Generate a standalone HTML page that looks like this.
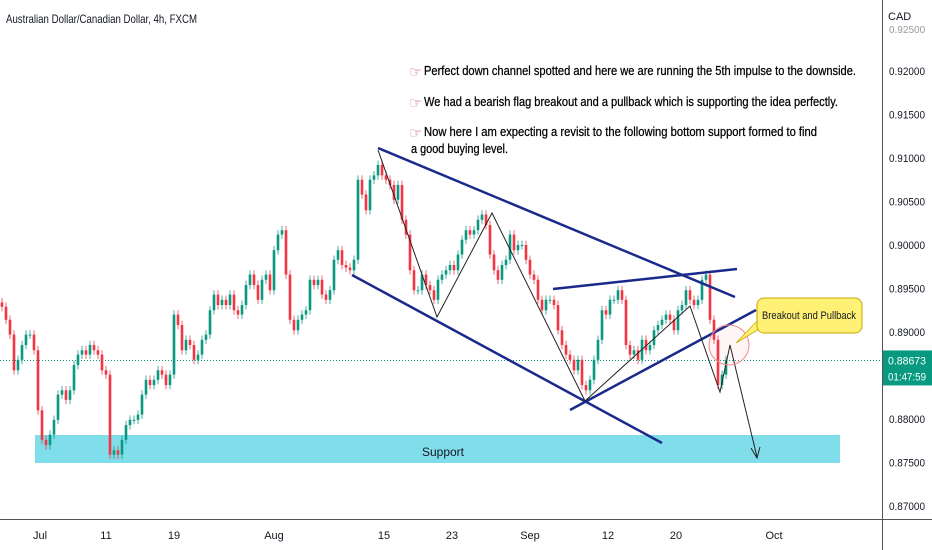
<!DOCTYPE html>
<html><head><meta charset="utf-8"><style>
html,body{margin:0;padding:0;background:#fff;}
svg{display:block;font-family:"Liberation Sans",sans-serif;}
</style></head><body>
<svg id="chart" width="932" height="550" viewBox="0 0 932 550">
<g id="under"></g>
<g id="candles"></g>
<g id="overlay"></g>
<g id="axes"></g>
</svg>
<script>
const closes=[0.8929,0.8914,0.8897,0.8856,0.8868,0.8885,0.8897,0.8897,0.8879,0.8810,0.8776,0.8770,0.8782,0.8799,0.8828,0.8833,0.8822,0.8833,0.8862,0.8874,0.8879,0.8874,0.8885,0.8879,0.8874,0.8856,0.8851,0.8759,0.8764,0.8759,0.8776,0.8793,0.8799,0.8799,0.8805,0.8828,0.8845,0.8839,0.8845,0.8856,0.8851,0.8839,0.8851,0.8920,0.8908,0.8879,0.8891,0.8885,0.8868,0.8874,0.8891,0.8897,0.8925,0.8943,0.8931,0.8937,0.8931,0.8943,0.8925,0.8920,0.8931,0.8954,0.8966,0.8954,0.8937,0.8960,0.8966,0.8948,0.8994,0.9012,0.9017,0.8966,0.8914,0.8902,0.8914,0.8920,0.8925,0.8960,0.8954,0.8960,0.8943,0.8937,0.8948,0.8983,0.8994,0.8977,0.8974,0.8971,0.8983,0.9075,0.9058,0.9040,0.9075,0.9080,0.9092,0.9080,0.9075,0.9069,0.9052,0.9069,0.9029,0.9012,0.8971,0.8948,0.8948,0.8966,0.8954,0.8948,0.8937,0.8960,0.8966,0.8971,0.8977,0.8971,0.8989,0.9006,0.9017,0.9012,0.9017,0.9029,0.9035,0.9023,0.8989,0.8971,0.8960,0.8977,0.8983,0.9012,0.8994,0.9000,0.9000,0.8983,0.8966,0.8960,0.8937,0.8925,0.8937,0.8937,0.8931,0.8902,0.8885,0.8874,0.8868,0.8856,0.8868,0.8839,0.8833,0.8845,0.8868,0.8891,0.8925,0.8920,0.8937,0.8937,0.8948,0.8937,0.8885,0.8874,0.8879,0.8868,0.8891,0.8879,0.8885,0.8902,0.8908,0.8914,0.8920,0.8914,0.8902,0.8925,0.8931,0.8948,0.8937,0.8931,0.8937,0.8960,0.8966,0.8914,0.8891,0.8839,0.8851,0.8868];
const yTicks=[0.920,0.915,0.910,0.905,0.900,0.895,0.890,0.880,0.875,0.870];
const xTickLabels=["Jul","11","19","Aug","15","23","Sep","12","20","Oct"];
const xTickIdx=[9.5,26,43,68,95.5,112.5,132,151.5,168.5,193];
const lastPrice=0.88673;

const NS="http://www.w3.org/2000/svg";
function mk(t,a,p){const e=document.createElementNS(NS,t);for(const k in a)e.setAttribute(k,a[k]);p.appendChild(e);return e;}
function y(p){return 71+(0.92-p)*8700;}
function x(i){return 2+i*4;}
const ug=document.getElementById('under');
let s=mk('rect',{x:35,y:435,width:805,height:28,fill:'#80deea'},ug);


s=mk('text',{x:443,y:456,'font-size':12,fill:'#131722','text-anchor':'middle'},ug);s.textContent='Support';


s=mk('line',{x1:0,x2:882,y1:y(lastPrice),y2:y(lastPrice),stroke:'#089981','stroke-width':1,'stroke-dasharray':'1 2'},ug);


const cg=document.getElementById('candles');
for(let i=0;i<closes.length;i++){
  const o=i?closes[i-1]:closes[0]+0.0005, c=closes[i];
  const up=c>=o, col=up?'#089981':'#f23645';
  const hi=Math.max(o,c)+0.0005, lo=Math.min(o,c)-0.0005;
  const w=mk('line',{x1:x(i),x2:x(i),y1:y(hi),y2:y(lo),stroke:col,'stroke-width':1,opacity:0.75},cg);
  
  
  const top=y(Math.max(o,c)), h=Math.max(1,Math.abs(y(o)-y(c)));
  const b=mk('rect',{x:x(i)-1.3,y:top,width:2.6,height:h,fill:col},cg);
  
  
}
const ov=document.getElementById('overlay');
const blue='#1a2a8c';
const lines=[[378,148,735,297,'channel-top'],[352,275,662,443,'channel-bottom'],[553,289,737,269,'flag-top'],[570,410,756,310,'flag-bottom']];
for(const L of lines){const e=mk('line',{x1:L[0],y1:L[1],x2:L[2],y2:L[3],stroke:blue,'stroke-width':2.5},ov);

}
s=mk('polyline',{points:'378,150 437,317 492,213 585,401 690,306 720,392 730,345 757,457',fill:'none',stroke:'#222','stroke-width':1},ov);


s=mk('polyline',{points:'751,448 757,458 760,447',fill:'none',stroke:'#222','stroke-width':1},ov);


s=mk('circle',{cx:729,cy:345,r:20,fill:'rgba(242,54,69,0.05)',stroke:'#f28b8b','stroke-width':1},ov);


s=mk('path',{d:'M736,343 L760,318 L764,326 Z',fill:'#fff176',stroke:'#c9a800','stroke-width':0.8},ov);


s=mk('rect',{x:757,y:298,width:105,height:35,rx:7,fill:'#fff176',stroke:'#c9a800','stroke-width':1},ov);


s=mk('text',{x:809,y:319,'font-size':11,fill:'#131722','text-anchor':'middle',textLength:94,lengthAdjust:'spacingAndGlyphs'},ov);s.textContent='Breakout and Pullback';


const notes=[[75,'Perfect down channel spotted and here we are running the 5th impulse to the downside.',432],[106,'We had a bearish flag breakout and a pullback which is supporting the idea perfectly.',414],[136,'Now here I am expecting a revisit to the following bottom support formed to find',393]];
for(const n of notes){
 let h=mk('text',{x:409,y:n[0]+2,'font-size':15,fill:'#d9707e'},ov);h.textContent='☞';
 
 
 let t=mk('text',{x:424,y:n[0],'font-size':12.5,fill:'#000',stroke:'#000','stroke-width':0.25,textLength:n[2],lengthAdjust:'spacingAndGlyphs'},ov);t.textContent=n[1];
 
 
}
s=mk('text',{x:411,y:153,'font-size':12.5,fill:'#000',stroke:'#000','stroke-width':0.25,textLength:97,lengthAdjust:'spacingAndGlyphs'},ov);s.textContent='a good buying level.';


s=mk('text',{x:6,y:23,'font-size':12,fill:'#131722',textLength:191,lengthAdjust:'spacingAndGlyphs'},ov);s.textContent='Australian Dollar/Canadian Dollar, 4h, FXCM';


const ax=document.getElementById('axes');
s=mk('rect',{x:883,y:0,width:49,height:550,fill:'#fff'},ax);


s=mk('rect',{x:0,y:520,width:883,height:30,fill:'#fff'},ax);


s=mk('line',{x1:882.5,x2:882.5,y1:0,y2:550,stroke:'#555','stroke-width':1},ax);


s=mk('line',{x1:0,x2:932,y1:519.5,y2:519.5,stroke:'#555','stroke-width':1},ax);


s=mk('text',{x:888,y:20,'font-size':11,fill:'#131722'},ax);s.textContent='CAD';


s=mk('text',{x:889,y:33,'font-size':10,fill:'#999'},ax);s.textContent='0.92500';


for(const v of yTicks){const t=mk('text',{x:889,y:y(v)+4,'font-size':11,fill:'#131722',textLength:36,lengthAdjust:'spacingAndGlyphs'},ax);t.textContent=v.toFixed(5);

}
s=mk('rect',{x:883,y:y(lastPrice)-10,width:49,height:35,fill:'#089981'},ax);


s=mk('text',{x:888,y:y(lastPrice)+4,'font-size':11,fill:'#fff',textLength:38,lengthAdjust:'spacingAndGlyphs'},ax);s.textContent=lastPrice.toFixed(5);


s=mk('text',{x:888,y:y(lastPrice)+20,'font-size':11,fill:'#fff',textLength:38,lengthAdjust:'spacingAndGlyphs'},ax);s.textContent='01:47:59';


for(let i=0;i<xTickLabels.length;i++){const t=mk('text',{x:x(xTickIdx[i]),y:539,'font-size':11,fill:'#131722','text-anchor':'middle'},ax);t.textContent=xTickLabels[i];

}
</script>
</body></html>
